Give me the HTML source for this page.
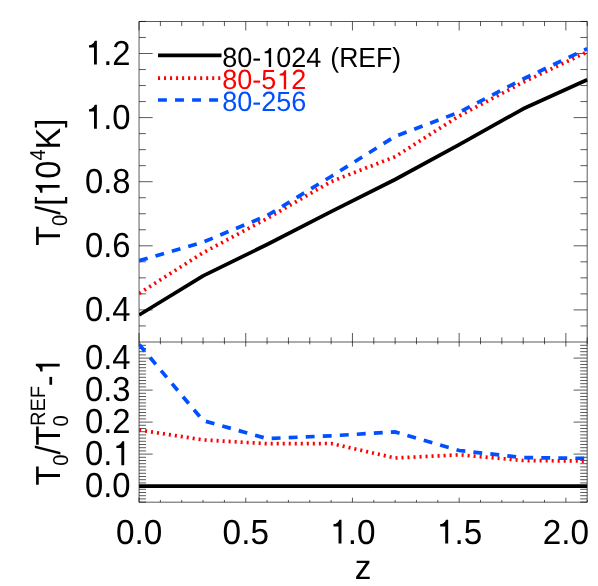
<!DOCTYPE html>
<html><head><meta charset="utf-8"><title>chart</title>
<style>
html,body{margin:0;padding:0;background:#fff;}
body{width:598px;height:586px;overflow:hidden;}
svg{display:block;will-change:transform;}
text{font-family:"Liberation Sans",sans-serif;fill:#000;text-rendering:geometricPrecision;}
</style></head><body>
<svg width="598" height="586" viewBox="0 0 598 586">
<rect width="598" height="586" fill="#fff"/>
<defs><clipPath id="cu"><rect x="139.05" y="21.5" width="448.65000000000003" height="320.5"/></clipPath><clipPath id="cl"><rect x="139.05" y="342.0" width="448.65000000000003" height="160.2"/></clipPath></defs>
<path d="M139.05 21.5v9.0 M139.05 342.0v-9.0 M139.05 342.0v4.6 M139.05 502.2v-4.6 M160.39 21.5v4.6 M160.39 342.0v-4.6 M160.39 342.0v2.3 M160.39 502.2v-2.3 M181.73 21.5v4.6 M181.73 342.0v-4.6 M181.73 342.0v2.3 M181.73 502.2v-2.3 M203.07 21.5v4.6 M203.07 342.0v-4.6 M203.07 342.0v2.3 M203.07 502.2v-2.3 M224.41 21.5v4.6 M224.41 342.0v-4.6 M224.41 342.0v2.3 M224.41 502.2v-2.3 M245.75 21.5v9.0 M245.75 342.0v-9.0 M245.75 342.0v4.6 M245.75 502.2v-4.6 M267.09 21.5v4.6 M267.09 342.0v-4.6 M267.09 342.0v2.3 M267.09 502.2v-2.3 M288.43 21.5v4.6 M288.43 342.0v-4.6 M288.43 342.0v2.3 M288.43 502.2v-2.3 M309.77 21.5v4.6 M309.77 342.0v-4.6 M309.77 342.0v2.3 M309.77 502.2v-2.3 M331.11 21.5v4.6 M331.11 342.0v-4.6 M331.11 342.0v2.3 M331.11 502.2v-2.3 M352.45 21.5v9.0 M352.45 342.0v-9.0 M352.45 342.0v4.6 M352.45 502.2v-4.6 M373.80 21.5v4.6 M373.80 342.0v-4.6 M373.80 342.0v2.3 M373.80 502.2v-2.3 M395.14 21.5v4.6 M395.14 342.0v-4.6 M395.14 342.0v2.3 M395.14 502.2v-2.3 M416.48 21.5v4.6 M416.48 342.0v-4.6 M416.48 342.0v2.3 M416.48 502.2v-2.3 M437.82 21.5v4.6 M437.82 342.0v-4.6 M437.82 342.0v2.3 M437.82 502.2v-2.3 M459.16 21.5v9.0 M459.16 342.0v-9.0 M459.16 342.0v4.6 M459.16 502.2v-4.6 M480.50 21.5v4.6 M480.50 342.0v-4.6 M480.50 342.0v2.3 M480.50 502.2v-2.3 M501.84 21.5v4.6 M501.84 342.0v-4.6 M501.84 342.0v2.3 M501.84 502.2v-2.3 M523.18 21.5v4.6 M523.18 342.0v-4.6 M523.18 342.0v2.3 M523.18 502.2v-2.3 M544.52 21.5v4.6 M544.52 342.0v-4.6 M544.52 342.0v2.3 M544.52 502.2v-2.3 M565.86 21.5v9.0 M565.86 342.0v-9.0 M565.86 342.0v4.6 M565.86 502.2v-4.6 M587.20 21.5v4.6 M587.20 342.0v-4.6 M587.20 342.0v2.3 M587.20 502.2v-2.3 M139.05 325.93h6.8 M587.2 325.93h-6.8 M139.05 309.90h13.6 M587.2 309.90h-13.6 M139.05 293.88h6.8 M587.2 293.88h-6.8 M139.05 277.85h6.8 M587.2 277.85h-6.8 M139.05 261.82h6.8 M587.2 261.82h-6.8 M139.05 245.80h13.6 M587.2 245.80h-13.6 M139.05 229.77h6.8 M587.2 229.77h-6.8 M139.05 213.75h6.8 M587.2 213.75h-6.8 M139.05 197.72h6.8 M587.2 197.72h-6.8 M139.05 181.70h13.6 M587.2 181.70h-13.6 M139.05 165.67h6.8 M587.2 165.67h-6.8 M139.05 149.65h6.8 M587.2 149.65h-6.8 M139.05 133.62h6.8 M587.2 133.62h-6.8 M139.05 117.60h13.6 M587.2 117.60h-13.6 M139.05 101.57h6.8 M587.2 101.57h-6.8 M139.05 85.55h6.8 M587.2 85.55h-6.8 M139.05 69.52h6.8 M587.2 69.52h-6.8 M139.05 53.50h13.6 M587.2 53.50h-13.6 M139.05 37.47h6.8 M587.2 37.47h-6.8 M139.05 21.45h6.8 M587.2 21.45h-6.8 M139.05 502.10h7.0 M587.2 502.10h-7.0 M139.05 498.90h7.0 M587.2 498.90h-7.0 M139.05 495.70h7.0 M587.2 495.70h-7.0 M139.05 492.50h7.0 M587.2 492.50h-7.0 M139.05 489.30h7.0 M587.2 489.30h-7.0 M139.05 486.10h13.6 M587.2 486.10h-13.6 M139.05 482.90h7.0 M587.2 482.90h-7.0 M139.05 479.70h7.0 M587.2 479.70h-7.0 M139.05 476.50h7.0 M587.2 476.50h-7.0 M139.05 473.30h7.0 M587.2 473.30h-7.0 M139.05 470.10h7.0 M587.2 470.10h-7.0 M139.05 466.90h7.0 M587.2 466.90h-7.0 M139.05 463.70h7.0 M587.2 463.70h-7.0 M139.05 460.50h7.0 M587.2 460.50h-7.0 M139.05 457.30h7.0 M587.2 457.30h-7.0 M139.05 454.10h13.6 M587.2 454.10h-13.6 M139.05 450.90h7.0 M587.2 450.90h-7.0 M139.05 447.70h7.0 M587.2 447.70h-7.0 M139.05 444.50h7.0 M587.2 444.50h-7.0 M139.05 441.30h7.0 M587.2 441.30h-7.0 M139.05 438.10h7.0 M587.2 438.10h-7.0 M139.05 434.90h7.0 M587.2 434.90h-7.0 M139.05 431.70h7.0 M587.2 431.70h-7.0 M139.05 428.50h7.0 M587.2 428.50h-7.0 M139.05 425.30h7.0 M587.2 425.30h-7.0 M139.05 422.10h13.6 M587.2 422.10h-13.6 M139.05 418.90h7.0 M587.2 418.90h-7.0 M139.05 415.70h7.0 M587.2 415.70h-7.0 M139.05 412.50h7.0 M587.2 412.50h-7.0 M139.05 409.30h7.0 M587.2 409.30h-7.0 M139.05 406.10h7.0 M587.2 406.10h-7.0 M139.05 402.90h7.0 M587.2 402.90h-7.0 M139.05 399.70h7.0 M587.2 399.70h-7.0 M139.05 396.50h7.0 M587.2 396.50h-7.0 M139.05 393.30h7.0 M587.2 393.30h-7.0 M139.05 390.10h13.6 M587.2 390.10h-13.6 M139.05 386.90h7.0 M587.2 386.90h-7.0 M139.05 383.70h7.0 M587.2 383.70h-7.0 M139.05 380.50h7.0 M587.2 380.50h-7.0 M139.05 377.30h7.0 M587.2 377.30h-7.0 M139.05 374.10h7.0 M587.2 374.10h-7.0 M139.05 370.90h7.0 M587.2 370.90h-7.0 M139.05 367.70h7.0 M587.2 367.70h-7.0 M139.05 364.50h7.0 M587.2 364.50h-7.0 M139.05 361.30h7.0 M587.2 361.30h-7.0 M139.05 358.10h13.6 M587.2 358.10h-13.6 M139.05 354.90h7.0 M587.2 354.90h-7.0 M139.05 351.70h7.0 M587.2 351.70h-7.0 M139.05 348.50h7.0 M587.2 348.50h-7.0 M139.05 345.30h7.0 M587.2 345.30h-7.0" stroke="#000" stroke-width="0.65" fill="none"/>
<path d="M139.05 21.5H587.2V502.2H139.05Z M139.05 342.0H587.2" stroke="#000" stroke-width="0.65" fill="none"/>
<g clip-path="url(#cu)" fill="none" stroke-width="3.7"><polyline points="139.1,315.0 203.1,275.9 267.1,244.5 331.1,211.7 395.1,179.5 459.2,144.7 523.2,108.8 587.2,79.7" stroke="#000" stroke-linejoin="round"/><polyline points="139.1,293.4 203.1,252.7 267.1,218.5 331.1,181.6 395.1,156.7 459.2,115.9 523.2,82.2 587.2,52.0" stroke="#ff0000" stroke-dasharray="2.05 3.97"/><polyline points="139.1,260.7 203.1,242.1 267.1,215.6 331.1,176.5 395.1,136.4 459.2,112.2 523.2,79.0 587.2,48.7" stroke="#0050ff" stroke-dasharray="8.9 8.15"/></g>
<g clip-path="url(#cl)" fill="none" stroke-width="3.7"><path d="M139.05 486.1H587.2" stroke="#000"/><polyline points="139.1,430.0 203.1,439.9 267.1,443.7 331.1,443.5 395.1,458.0 459.2,454.8 523.2,460.5 587.2,461.1" stroke="#ff0000" stroke-dasharray="2.05 3.97"/><polyline points="139.1,344.5 203.1,420.6 267.1,438.6 331.1,435.8 395.1,431.9 459.2,450.5 523.2,457.6 587.2,458.4" stroke="#0050ff" stroke-dasharray="8.9 8.15"/></g>
<g fill="none" stroke-width="3.7"><path d="M158 55.3H221.5" stroke="#000"/><path d="M158 78.1H221.5" stroke="#ff0000" stroke-dasharray="2.05 3.97"/><path d="M158 100H221.5" stroke="#0050ff" stroke-dasharray="8.9 8.15"/></g>
<g transform="translate(222.20,67.00) scale(1.016,1)"><text transform="translate(0.00,0.00) scale(0.9579,1)" font-size="27.77">80-</text><path transform="translate(38.45,0.00) scale(0.02660,-0.02713)" d="M365 0H277V505H126V572C200 575 268 612 301 703H365Z" fill="#000"/><text transform="translate(53.24,0.00) scale(0.9579,1)" font-size="27.77">024</text></g><g transform="translate(330.30,67.00)"><text transform="translate(0.00,0.00) scale(0.9579,1)" font-size="27.77">(REF)</text></g><g transform="translate(222.20,89.20) scale(1.016,1)"><text transform="translate(0.00,0.00) scale(0.9579,1)" font-size="27.77" style="fill:#ff0000">80-5</text><path transform="translate(53.24,0.00) scale(0.02660,-0.02713)" d="M365 0H277V505H126V572C200 575 268 612 301 703H365Z" style="fill:#ff0000"/><text transform="translate(68.03,0.00) scale(0.9579,1)" font-size="27.77" style="fill:#ff0000">2</text></g><g transform="translate(222.20,111.30) scale(1.016,1)"><text transform="translate(0.00,0.00) scale(0.9579,1)" font-size="27.77" style="fill:#0050ff">80-256</text></g>
<g transform="translate(84.90,321.00) scale(0.985,1)"><text transform="translate(0.00,0.00) scale(0.9579,1)" font-size="34.77">0.4</text></g><g transform="translate(84.90,256.90) scale(0.985,1)"><text transform="translate(0.00,0.00) scale(0.9579,1)" font-size="34.77">0.6</text></g><g transform="translate(84.90,192.80) scale(0.985,1)"><text transform="translate(0.00,0.00) scale(0.9579,1)" font-size="34.77">0.8</text></g><g transform="translate(84.90,128.70) scale(0.985,1)"><path transform="translate(0.00,0.00) scale(0.03330,-0.03397)" d="M365 0H277V505H126V572C200 575 268 612 301 703H365Z" fill="#000"/><text transform="translate(18.52,0.00) scale(0.9579,1)" font-size="34.77">.0</text></g><g transform="translate(84.90,64.60) scale(0.985,1)"><path transform="translate(0.00,0.00) scale(0.03330,-0.03397)" d="M365 0H277V505H126V572C200 575 268 612 301 703H365Z" fill="#000"/><text transform="translate(18.52,0.00) scale(0.9579,1)" font-size="34.77">.2</text></g><g transform="translate(84.90,497.20) scale(0.985,1)"><text transform="translate(0.00,0.00) scale(0.9579,1)" font-size="34.77">0.0</text></g><g transform="translate(84.90,465.20) scale(0.985,1)"><text transform="translate(0.00,0.00) scale(0.9579,1)" font-size="34.77">0.</text><path transform="translate(27.77,0.00) scale(0.03330,-0.03397)" d="M365 0H277V505H126V572C200 575 268 612 301 703H365Z" fill="#000"/></g><g transform="translate(84.90,433.20) scale(0.985,1)"><text transform="translate(0.00,0.00) scale(0.9579,1)" font-size="34.77">0.2</text></g><g transform="translate(84.90,401.20) scale(0.985,1)"><text transform="translate(0.00,0.00) scale(0.9579,1)" font-size="34.77">0.3</text></g><g transform="translate(84.90,369.20) scale(0.985,1)"><text transform="translate(0.00,0.00) scale(0.9579,1)" font-size="34.77">0.4</text></g><g transform="translate(115.90,543.55)"><text transform="translate(0.00,0.00) scale(0.9579,1)" font-size="34.77">0.0</text></g><g transform="translate(222.61,543.55)"><text transform="translate(0.00,0.00) scale(0.9579,1)" font-size="34.77">0.5</text></g><g transform="translate(329.31,543.55)"><path transform="translate(0.00,0.00) scale(0.03330,-0.03397)" d="M365 0H277V505H126V572C200 575 268 612 301 703H365Z" fill="#000"/><text transform="translate(18.52,0.00) scale(0.9579,1)" font-size="34.77">.0</text></g><g transform="translate(436.01,543.55)"><path transform="translate(0.00,0.00) scale(0.03330,-0.03397)" d="M365 0H277V505H126V572C200 575 268 612 301 703H365Z" fill="#000"/><text transform="translate(18.52,0.00) scale(0.9579,1)" font-size="34.77">.5</text></g><g transform="translate(542.71,543.55)"><text transform="translate(0.00,0.00) scale(0.9579,1)" font-size="34.77">2.0</text></g><g transform="translate(354.78,578.60)"><text transform="translate(0.00,0.00) scale(0.9579,1)" font-size="34.77">z</text></g>
<g transform="translate(59.6,245.8) rotate(-90) scale(0.975,1)"><text transform="translate(0.00,0.00) scale(0.9579,1)" font-size="34.77">T</text><text transform="translate(20.34,7.80) scale(0.9579,1)" font-size="21.55">0</text><text transform="translate(31.82,0.00) scale(0.9579,1)" font-size="34.77">/[</text><path transform="translate(50.33,0.00) scale(0.03330,-0.03397)" d="M365 0H277V505H126V572C200 575 268 612 301 703H365Z" fill="#000"/><text transform="translate(68.85,0.00) scale(0.9579,1)" font-size="34.77">0</text><text transform="translate(87.37,-14.60) scale(0.9579,1)" font-size="21.55">4</text><text transform="translate(98.85,0.00) scale(0.9579,1)" font-size="34.77">K]</text></g>
<g transform="translate(59.7,485.6) rotate(-90) scale(0.975,1)"><text transform="translate(0.00,0.00) scale(0.9579,1)" font-size="34.77">T</text><text transform="translate(20.34,7.80) scale(0.9579,1)" font-size="21.55">0</text><text transform="translate(31.82,0.00) scale(0.9579,1)" font-size="34.77">/T</text><g transform="translate(60.62,0)"><text transform="translate(0.00,7.80) scale(0.9579,1)" font-size="21.55">0</text></g><g transform="translate(61.02,0) scale(1.03,1)"><text transform="translate(0.00,-15.00) scale(0.9579,1)" font-size="20.86">REF</text></g><g transform="translate(101.77,0)"><text transform="translate(0.00,0.00) scale(0.9579,1)" font-size="34.77">-</text><path transform="translate(11.09,0.00) scale(0.03330,-0.03397)" d="M365 0H277V505H126V572C200 575 268 612 301 703H365Z" fill="#000"/></g></g>
</svg></body></html>
